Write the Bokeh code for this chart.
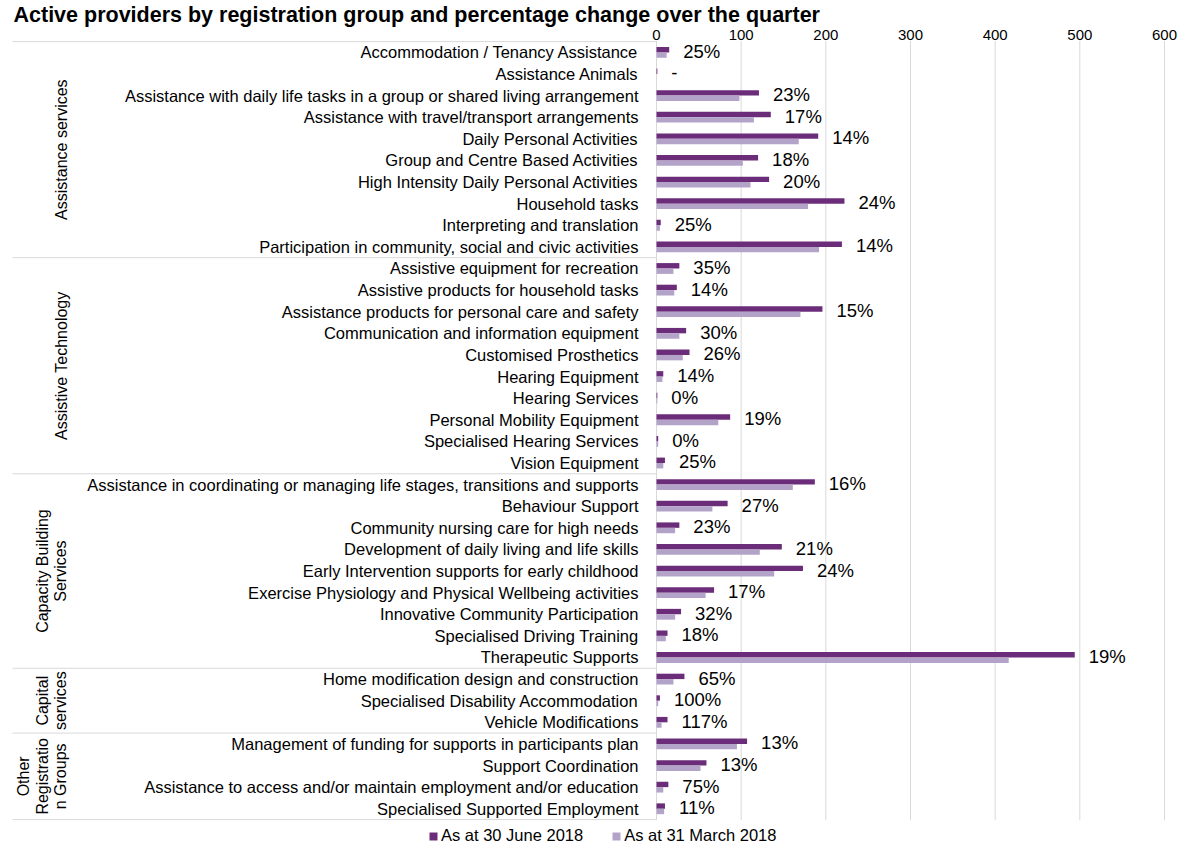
import math
from bokeh.plotting import figure
from bokeh.models import Range1d, FixedTicker, ColumnDataSource, Legend, LegendItem
from bokeh.transform import dodge
from bokeh.core.properties import value
from bokeh.embed import file_html
from bokeh.resources import INLINE

# ---------------- data ----------------
groups = ["Assistance services", "Assistive Technology", "Capacity Building\nServices",
          "Capital\nservices", "Other\nRegistratio\nn Groups"]
group_sizes = [10, 10, 9, 3, 4]

categories = [
    "Accommodation / Tenancy Assistance",
    "Assistance Animals",
    "Assistance with daily life tasks in a group or shared living arrangement",
    "Assistance with travel/transport arrangements",
    "Daily Personal Activities",
    "Group and Centre Based Activities",
    "High Intensity Daily Personal Activities",
    "Household tasks",
    "Interpreting and translation",
    "Participation in community, social and civic activities",
    "Assistive equipment for recreation",
    "Assistive products for household tasks",
    "Assistance products for personal care and safety",
    "Communication and information equipment",
    "Customised Prosthetics",
    "Hearing Equipment",
    "Hearing Services",
    "Personal Mobility Equipment",
    "Specialised Hearing Services",
    "Vision Equipment",
    "Assistance in coordinating or managing life stages, transitions and supports",
    "Behaviour Support",
    "Community nursing care for high needs",
    "Development of daily living and life skills",
    "Early Intervention supports for early childhood",
    "Exercise Physiology and Physical Wellbeing activities",
    "Innovative Community Participation",
    "Specialised Driving Training",
    "Therapeutic Supports",
    "Home modification design and construction",
    "Specialised Disability Accommodation",
    "Vehicle Modifications",
    "Management of funding for supports in participants plan",
    "Support Coordination",
    "Assistance to access and/or maintain employment and/or education",
    "Specialised Supported Employment",
]

june_2018 = [15, 1, 121, 135, 191, 120, 133, 222, 5, 219,
             27, 24, 196, 35, 39, 8, 1, 87, 2, 10,
             187, 84, 27, 148, 173, 68, 29, 13, 494,
             33, 4, 13,
             107, 59, 14, 10]
march_2018 = [12, 0, 98, 115, 168, 102, 111, 179, 4, 192,
              20, 21, 170, 27, 31, 7, 1, 73, 2, 8,
              161, 66, 22, 122, 139, 58, 22, 11, 416,
              20, 2, 6,
              95, 52, 8, 9]
pct_change = ["25%", "-", "23%", "17%", "14%", "18%", "20%", "24%", "25%", "14%",
              "35%", "14%", "15%", "30%", "26%", "14%", "0%", "19%", "0%", "25%",
              "16%", "27%", "23%", "21%", "24%", "17%", "32%", "18%", "19%",
              "65%", "100%", "117%",
              "13%", "13%", "75%", "11%"]
x_ticks = [0, 100, 200, 300, 400, 500, 600]

series_labels = ["As at 30 June 2018", "As at 31 March 2018"]
title_text = "Active providers by registration group and percentage change over the quarter"

# ---------------- style / layout ----------------
FONT = "Liberation Sans"
DARK = "#6b2c7a"
LIGHT = "#b3a3c9"
GRID = "#d9d9d9"
W, H = 1191, 845
ZERO_PX = 656      # canvas px of value 0
MAX_PX = 1164      # canvas px of value 600
SEP_LEFT_PX = 12
GROUP_LABEL_PX = 69
k = (MAX_PX - ZERO_PX) / (x_ticks[-1] - x_ticks[0])
n = len(categories)
TOP_PAD = 0.05
BOTTOM_EXTRA = 1.2   # room for legend, in row units

p = figure(width=W, height=H, output_backend="svg", toolbar_location=None,
           x_range=Range1d(-ZERO_PX / k, (W - ZERO_PX) / k),
           y_range=Range1d(n - 0.5 + BOTTOM_EXTRA, -0.5 - TOP_PAD),
           x_axis_location="above", y_axis_location=None,
           min_border_left=0, min_border_right=0, min_border_top=0, min_border_bottom=0)
p.outline_line_color = None
p.background_fill_color = "white"

p.title.text = title_text
p.title.text_font = FONT
p.title.text_font_size = "21.5px"
p.title.text_font_style = "bold"
p.title.align = "left"
p.title.offset = 13
p.title.standoff = 0
p.title.text_color = "black"

ax = p.xaxis[0]
ax.ticker = FixedTicker(ticks=x_ticks)
ax.axis_line_color = None
ax.major_tick_line_color = None
ax.minor_tick_line_color = None
ax.major_tick_out = 0
ax.major_label_text_font = FONT
ax.major_label_text_font_size = "15px"
ax.major_label_text_color = "black"
ax.major_label_standoff = 1

p.xgrid.visible = False
p.ygrid.visible = False

src = ColumnDataSource(dict(y=list(range(n)), june=june_2018, march=march_2018,
                            cat=categories, pct=pct_change))

# vertical gridlines, limited to the category rows
p.segment(x0=x_ticks, x1=x_ticks, y0=-0.5 - TOP_PAD, y1=n - 0.5 + 0.03,
          line_color=GRID, line_width=1)

# group separators
bounds = [-0.5]
acc = 0
centers = []
for s in group_sizes:
    centers.append(acc + (s - 1) / 2)
    acc += s
    bounds.append(acc - 0.5)
SEP_X0 = (SEP_LEFT_PX - ZERO_PX) / k
p.segment(x0=SEP_X0, x1=0, y0=bounds, y1=bounds, line_color=GRID, line_width=1)

BAR_H = 0.25
r1 = p.hbar(y=dodge("y", -BAR_H / 2), left=0, right="june", height=BAR_H,
            fill_color=DARK, line_color=None, source=src)
r2 = p.hbar(y=dodge("y", BAR_H / 2), left=0, right="march", height=BAR_H,
            fill_color=LIGHT, line_color=None, source=src)

p.text(x="june", y="y", text="pct", x_offset=14, y_offset=-1, text_align="left",
       text_baseline="middle", text_font=value(FONT), text_font_size="18.5px",
       text_color="black", source=src)

p.text(x=0, y="y", text="cat", x_offset=-18, text_align="right", text_baseline="middle",
       text_font=value(FONT), text_font_size="16.5px", text_color="black", source=src)

gsrc = ColumnDataSource(dict(yc=centers, g=groups))
p.text(x=0, y="yc", text="g", x_offset=GROUP_LABEL_PX - ZERO_PX, angle=math.pi / 2,
       text_align="center", text_baseline="bottom", text_font=value(FONT),
       text_font_size="16px", text_color="black", text_line_height=1.1, source=gsrc)

legend = Legend(items=[LegendItem(label=series_labels[0], renderers=[r1]),
                       LegendItem(label=series_labels[1], renderers=[r2])],
                orientation="horizontal", location=(428, 0))
legend.label_text_font = FONT
legend.label_text_font_size = "16.5px"
legend.label_text_color = "black"
legend.glyph_width = 10
legend.glyph_height = 10
legend.label_standoff = 3
legend.spacing = 28
legend.padding = 0
legend.margin = 0
legend.border_line_color = None
legend.background_fill_alpha = 0
p.add_layout(legend)

open("out.html", "w").write(file_html(p, INLINE))
